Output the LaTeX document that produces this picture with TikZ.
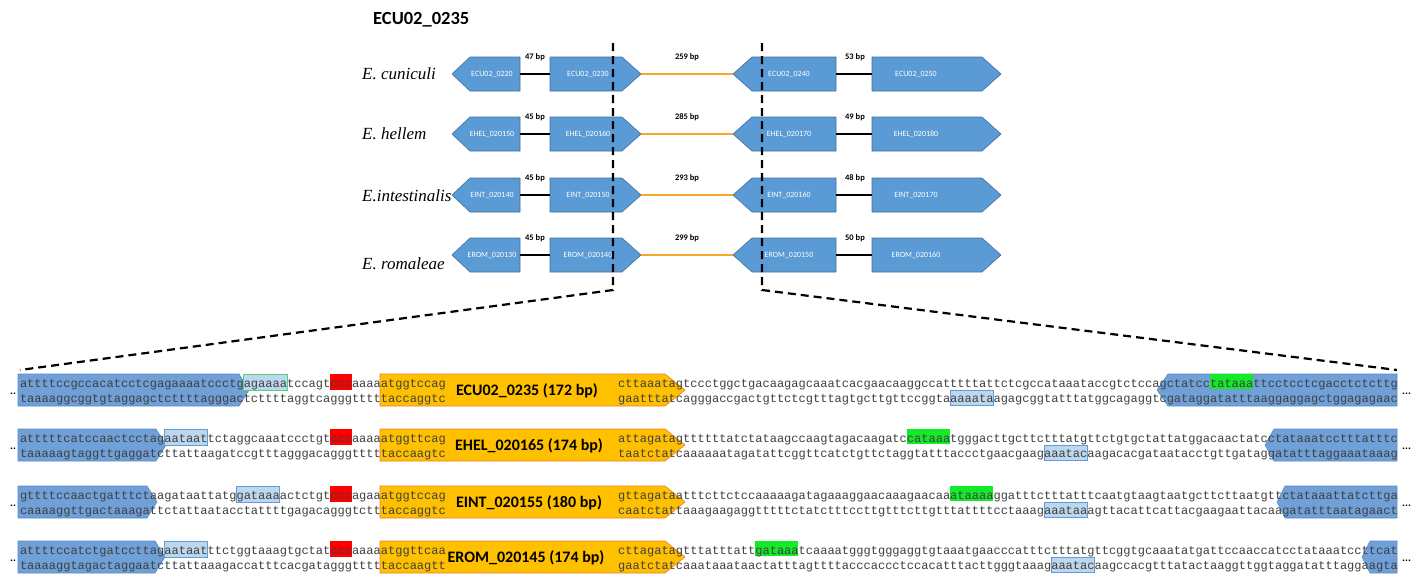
\documentclass[tikz,border=0pt]{standalone}
\usepackage{fontspec}
\setmainfont{Liberation Serif}
\newfontfamily\seqfont{Liberation Mono}
\newfontfamily\calfont{Carlito}
\definecolor{topblue}{RGB}{91,155,213}
\definecolor{topborder}{RGB}{65,113,156}
\definecolor{seqblue}{RGB}{112,160,216}
\definecolor{seqblueb}{RGB}{88,138,200}
\definecolor{lightbox}{RGB}{189,215,238}
\definecolor{lightboxb}{RGB}{100,155,215}
\definecolor{greenb}{RGB}{80,210,120}
\definecolor{gold}{RGB}{255,192,0}
\definecolor{goldb}{RGB}{237,125,49}
\definecolor{hlgreen}{RGB}{20,235,40}
\definecolor{hlred}{RGB}{255,0,0}
\definecolor{seqtext}{RGB}{64,64,64}
\definecolor{connorange}{RGB}{246,168,40}
\def\chw{7.218}
\def\xL{19.8}
\def\xR{618}
\newcommand\SeqBox[6]{\path[#1] ({#2+#3*\chw},#5) rectangle ({#2+(#4+1)*\chw},#6);}
\newcommand\ArrR[6]{\path[#1] (#2,#5) -- (#3,#5) -- (#4,{(#5+#6)/2}) -- (#3,#6) -- (#2,#6) -- cycle;}
\newcommand\ArrL[6]{\path[#1] (#2,{(#5+#6)/2}) -- (#3,#5) -- (#4,#5) -- (#4,#6) -- (#3,#6) -- cycle;}
\begin{document}
\begin{tikzpicture}[x=1pt,y=-1pt,
  garrow/.style={fill=topblue,draw=topborder,line width=0.6pt},
  glabel/.style={font=\calfont\fontsize{8}{9}\selectfont,text=white,inner sep=0pt},
  bplabel/.style={font=\calfont\bfseries\fontsize{8.5}{9}\selectfont,inner sep=0pt},
  species/.style={font=\itshape\fontsize{17}{19}\selectfont,inner sep=0pt,anchor=west},
  bline/.style={line width=2pt,black},
  oline/.style={line width=2pt,connorange},
  dline/.style={line width=2.2pt,black,dash pattern=on 8pt off 5pt},
  sblue/.style={fill=seqblue,draw=seqblueb,line width=0.6pt},
  sgold/.style={fill=gold,draw=goldb,line width=0.6pt},
  lbox/.style={fill=lightbox,draw=lightboxb,line width=0.7pt},
  gbox/.style={fill=lightbox,draw=greenb,line width=0.7pt},
  hlg/.style={fill=hlgreen},
  hlr/.style={fill=hlred},
  seq/.style={font=\seqfont\fontsize{12.03}{14}\selectfont,text=seqtext,inner sep=0pt,anchor=base west},
  gname/.style={font=\calfont\bfseries\fontsize{16}{18}\selectfont,inner sep=0pt,anchor=base},
  dots/.style={font=\calfont\bfseries\fontsize{11}{12}\selectfont,inner sep=0pt,anchor=base west}
]
\useasboundingbox[fill=white] (0,0) rectangle (1417,574);

% title
\node[font=\calfont\bfseries\fontsize{18.5}{20}\selectfont,inner sep=0pt,anchor=west] (title) at (373,20) {ECU02\_0235};

% gene neighbourhood rows
\foreach \c/\i/\sp/\sy/\na/\nb/\nc/\nd/\ba/\bb/\bc in {
 74/1/{E. cuniculi}/74/ECU02\_0220/ECU02\_0230/ECU02\_0240/ECU02\_0250/47/259/53,
 134/2/{E. hellem}/134/EHEL\_020150/EHEL\_020160/EHEL\_020170/EHEL\_020180/45/285/49,
 195/3/{E.intestinalis}/196/EINT\_020140/EINT\_020150/EINT\_020160/EINT\_020170/45/293/48,
 255/4/{E. romaleae}/264/EROM\_020130/EROM\_020140/EROM\_020150/EROM\_020160/45/299/50}
{
 \node[species] (sp\i) at (362,\sy) {\sp};
 \ArrL{garrow}{452}{470}{520}{\c-17}{\c+17}
 \ArrR{garrow}{550}{622}{641}{\c-17}{\c+17}
 \ArrL{garrow}{733}{752}{836}{\c-17}{\c+17}
 \ArrR{garrow}{872}{982}{1001}{\c-17}{\c+17}
 \node[glabel] (g\i a) at (492,\c) {\na};
 \node[glabel] (g\i b) at (588,\c) {\nb};
 \node[glabel] (g\i c) at (789,\c) {\nc};
 \node[glabel] (g\i d) at (916,\c) {\nd};
 \coordinate (e\i a) at (520,\c);
 \coordinate (s\i b) at (550,\c);
 \coordinate (e\i b) at (641,\c);
 \coordinate (s\i c) at (733,\c);
 \coordinate (e\i c) at (836,\c);
 \coordinate (s\i d) at (872,\c);
 \draw[bline] (e\i a) -- (s\i b);
 \draw[oline] (e\i b) -- (s\i c);
 \draw[bline] (e\i c) -- (s\i d);
 \node[bplabel] (bp\i a) at (535,\c-17) {\ba{} bp};
 \node[bplabel] (bp\i b) at (687,\c-17) {\bb{} bp};
 \node[bplabel] (bp\i c) at (855,\c-17) {\bc{} bp};
}

% dashed zoom lines
\coordinate (d1t) at (613,43);
\coordinate (d1b) at (613,290);
\coordinate (z1) at (20,370);
\coordinate (d2t) at (762,43);
\coordinate (d2b) at (762,290);
\coordinate (z2) at (1397,370);
\draw[dline] (d1t) -- (d1b) -- (z1);
\draw[dline] (d2t) -- (d2b) -- (z2);

% ---------- sequence rows ----------
% row 1
\def\yt{374}
\ArrR{sblue}{18}{239}{249}{\yt}{\yt+32}
\ArrR{sgold}{380}{665}{685}{\yt}{\yt+32}
\ArrL{sblue}{1157}{1168}{1397}{\yt}{\yt+32}
\SeqBox{gbox}{\xL}{31}{36}{\yt}{\yt+16}
\SeqBox{hlr}{\xL}{43}{45}{\yt}{\yt+16}
\SeqBox{hlg}{\xR}{82}{87}{\yt}{\yt+15}
\SeqBox{lbox}{\xR}{46}{51}{\yt+16}{\yt+31}
\node[seq] (r1lt) at (\xL,\yt+13.8) {attttccgccacatcctcgagaaaatccctgagaaaatccagtcccaaaaatggtccag};
\node[seq] (r1lb) at (\xL,\yt+28.8) {taaaaggcggtgtaggagctcttttagggactcttttaggtcagggtttttaccaggtc};
\node[seq] (r1rt) at (\xR,\yt+13.8) {cttaaatagtccctggctgacaagagcaaatcacgaacaaggccatttttattctcgccataaataccgtctccagctatcctataaattcctcctcgacctctcttg};
\node[seq] (r1rb) at (\xR,\yt+28.8) {gaatttatcagggaccgactgttctcgtttagtgcttgttccggtaaaaataagagcggtatttatggcagaggtcgataggatatttaaggaggagctggagagaac};
\node[gname] (gn1) at (527,\yt+21) {ECU02\_0235 (172 bp)};
\node[dots] (dl1) at (10,\yt+20) {..};
\node[dots] (dr1) at (1402,\yt+20) {...};

% row 2
\def\yt{429}
\ArrR{sblue}{18}{156}{166}{\yt}{\yt+32}
\ArrR{sgold}{380}{665}{685}{\yt}{\yt+32}
\ArrL{sblue}{1265}{1274}{1397}{\yt}{\yt+32}
\SeqBox{lbox}{\xL}{20}{25}{\yt}{\yt+16}
\SeqBox{hlr}{\xL}{43}{45}{\yt}{\yt+16}
\SeqBox{hlg}{\xR}{40}{45}{\yt}{\yt+15}
\SeqBox{lbox}{\xR}{59}{64}{\yt+16}{\yt+31}
\node[seq] (r2lt) at (\xL,\yt+13.8) {atttttcatccaactcctagaataattctaggcaaatccctgtcccaaaaatggttcag};
\node[seq] (r2lb) at (\xL,\yt+28.8) {taaaaagtaggttgaggatcttattaagatccgtttagggacagggtttttaccaagtc};
\node[seq] (r2rt) at (\xR,\yt+13.8) {attagatagttttttatctataagccaagtagacaagatccataaatgggacttgcttctttatgttctgtgctattatggacaactatcctataaatcctttatttc};
\node[seq] (r2rb) at (\xR,\yt+28.8) {taatctatcaaaaaatagatattcggttcatctgttctaggtatttaccctgaacgaagaaatacaagacacgataatacctgttgataggatatttaggaaataaag};
\node[gname] (gn2) at (529,\yt+21) {EHEL\_020165 (174 bp)};
\node[dots] (dl2) at (10,\yt+20) {..};
\node[dots] (dr2) at (1402,\yt+20) {...};

% row 3
\def\yt{486}
\ArrR{sblue}{18}{147}{157}{\yt}{\yt+32}
\ArrR{sgold}{380}{665}{685}{\yt}{\yt+32}
\ArrL{sblue}{1277}{1285}{1397}{\yt}{\yt+32}
\SeqBox{lbox}{\xL}{30}{35}{\yt}{\yt+16}
\SeqBox{hlr}{\xL}{43}{45}{\yt}{\yt+16}
\SeqBox{hlg}{\xR}{46}{51}{\yt}{\yt+15}
\SeqBox{lbox}{\xR}{59}{64}{\yt+16}{\yt+31}
\node[seq] (r3lt) at (\xL,\yt+13.8) {gttttccaactgatttctaagataattatggataaaactctgtcccagaaatggtccag};
\node[seq] (r3lb) at (\xL,\yt+28.8) {caaaaggttgactaaagattctattaatacctattttgagacagggtctttaccaggtc};
\node[seq] (r3rt) at (\xR,\yt+13.8) {gttagataatttcttctccaaaaagatagaaaggaacaaagaacaaataaaaggatttctttatttcaatgtaagtaatgcttcttaatgttctataaattatcttga};
\node[seq] (r3rb) at (\xR,\yt+28.8) {caatctattaaagaagaggtttttctatctttccttgtttcttgtttattttcctaaagaaataaagttacattcattacgaagaattacaagatatttaatagaact};
\node[gname] (gn3) at (529,\yt+21) {EINT\_020155 (180 bp)};
\node[dots] (dl3) at (10,\yt+20) {..};
\node[dots] (dr3) at (1402,\yt+20) {...};

% row 4
\def\yt{541}
\ArrR{sblue}{18}{155}{165}{\yt}{\yt+32}
\ArrR{sgold}{380}{665}{685}{\yt}{\yt+32}
\ArrL{sblue}{1362}{1370}{1397}{\yt}{\yt+32}
\SeqBox{lbox}{\xL}{20}{25}{\yt}{\yt+16}
\SeqBox{hlr}{\xL}{43}{45}{\yt}{\yt+16}
\SeqBox{hlg}{\xR}{19}{24}{\yt}{\yt+15}
\SeqBox{lbox}{\xR}{60}{65}{\yt+16}{\yt+31}
\node[seq] (r4lt) at (\xL,\yt+13.8) {attttccatctgatccttagaataatttctggtaaagtgctatcccaaaaatggttcaa};
\node[seq] (r4lb) at (\xL,\yt+28.8) {taaaaggtagactaggaatcttattaaagaccatttcacgatagggtttttaccaagtt};
\node[seq] (r4rt) at (\xR,\yt+13.8) {cttagatagtttatttattgataaatcaaaatgggtgggaggtgtaaatgaacccatttctttatgttcggtgcaaatatgattccaaccatcctataaatccttcat};
\node[seq] (r4rb) at (\xR,\yt+28.8) {gaatctatcaaataaataactatttagttttacccaccctccacatttacttgggtaaagaaatacaagccacgtttatactaaggttggtaggatatttaggaagta};
\node[gname] (gn4) at (526,\yt+21) {EROM\_020145 (174 bp)};
\node[dots] (dl4) at (10,\yt+20) {..};
\node[dots] (dr4) at (1402,\yt+20) {...};
\end{tikzpicture}
\end{document}
